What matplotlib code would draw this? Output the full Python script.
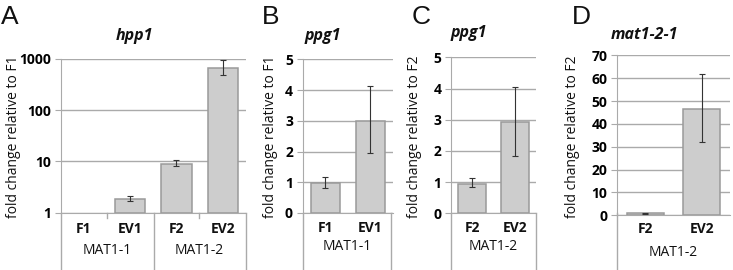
import numpy as np
import matplotlib
matplotlib.use("Agg")
import matplotlib.pyplot as plt
from matplotlib.transforms import blended_transform_factory
from matplotlib.lines import Line2D

plt.rcParams['font.family'] = ['Open Sans', 'DejaVu Sans']

# panel A: hpp1 (log scale)
a_cats = ['F1', 'EV1', 'F2', 'EV2']
a_vals = [1.0, 1.82, 9.1, 680]
a_lo = [1.0, 1.69, 8.3, 483]
a_hi = [1.0, 2.14, 10.5, 948]
a_groups = ['MAT1-1', 'MAT1-2']
a_ticks = [1, 10, 100, 1000]

# panel B: ppg1 relative to F1
b_cats = ['F1', 'EV1']
b_vals = [0.97, 3.0]
b_lo = [0.80, 1.96]
b_hi = [1.18, 4.13]

# panel C: ppg1 relative to F2
c_cats = ['F2', 'EV2']
c_vals = [0.95, 2.92]
c_lo = [0.85, 1.83]
c_hi = [1.14, 4.04]

# panel D: mat1-2-1 relative to F2
d_cats = ['F2', 'EV2']
d_vals = [0.8, 46.6]
d_lo = [0.5, 32.0]
d_hi = [1.2, 61.7]

W, H = 733, 270
fig = plt.figure(figsize=(W / 100, H / 100), dpi=100)

GRID = '#aaaaaa'
BAR = '#cdcdcd'
EDGE = '#9a9a9a'


def px_axes(left, right, top, bottom):
    return fig.add_axes([left / W, 1 - bottom / H, (right - left) / W, (bottom - top) / H])


def style(ax, ticks):
    for s in ['top', 'right']:
        ax.spines[s].set_visible(False)
    ax.spines['left'].set_color(GRID)
    ax.spines['bottom'].set_color(GRID)
    ax.set_yticks(ticks, [str(t) for t in ticks], fontweight='bold', fontsize=10)
    ax.minorticks_off()
    ax.tick_params(axis='y', length=4, color=GRID, pad=3)
    ax.tick_params(axis='x', length=0, labelbottom=False)
    ax.yaxis.grid(True, color=GRID, lw=1)
    ax.set_axisbelow(True)


def draw_bars(ax, vals, lo, hi, base=0):
    x = np.arange(len(vals))
    vals = np.array(vals)
    lo, hi = np.array(lo), np.array(hi)
    h = vals - base
    ax.bar(x, h, bottom=base, width=0.65, color=BAR, edgecolor=EDGE,
           lw=[1.1 if v > 0 else 0 for v in h], zorder=2)
    m = hi > lo
    err = [vals[m] - lo[m], hi[m] - vals[m]]
    ax.errorbar(x[m], vals[m], yerr=err, fmt='none', ecolor='#333333', elinewidth=0.8,
                capsize=2, capthick=0.8, zorder=3)
    ax.set_xlim(-0.5, len(vals) - 0.5)


def cat_table(ax, cats, groups, cat_y, grp_y, full_lines, short_lines):
    tr = blended_transform_factory(ax.transData, fig.transFigure)
    for i, c in enumerate(cats):
        ax.text(i, 1 - cat_y / H, c, transform=tr, ha='center', va='center',
                fontsize=10, fontweight='bold', color='#111111')
    n = len(cats) // len(groups)
    for g, name in enumerate(groups):
        ax.text(g * n + (n - 1) / 2, 1 - grp_y / H, name, transform=tr, ha='center',
                va='center', fontsize=10, color='#111111')
    for xv in full_lines:
        fig.add_artist(Line2D([xv / W, xv / W], [1 - 213 / H, 0], color=GRID, lw=1))
    for xv in short_lines:
        fig.add_artist(Line2D([xv / W, xv / W], [1 - 213 / H, 1 - 218 / H], color=GRID, lw=1))


# A
axA = px_axes(60.5, 246, 59, 212.7)
axA.set_yscale('log')
axA.set_ylim(1, 1000)
draw_bars(axA, a_vals, a_lo, a_hi, base=1)
style(axA, a_ticks)
cat_table(axA, a_cats, a_groups, 229, 250, [60.5, 154, 246], [107, 199])

# B
axB = px_axes(302.7, 392.7, 59.3, 213)
axB.set_ylim(0, 5)
draw_bars(axB, b_vals, b_lo, b_hi)
style(axB, list(range(6)))
cat_table(axB, b_cats, ['MAT1-1'], 228, 247, [302.7, 391], [])

# C
axC = px_axes(451, 536, 57.3, 213.3)
axC.set_ylim(0, 5)
draw_bars(axC, c_vals, c_lo, c_hi)
style(axC, list(range(6)))
cat_table(axC, c_cats, ['MAT1-2'], 228, 247, [451, 536], [])

# D
axD = px_axes(617, 730, 55.3, 215.3)
axD.set_ylim(0, 70)
draw_bars(axD, d_vals, d_lo, d_hi)
style(axD, list(range(0, 71, 10)))
cat_table(axD, d_cats, ['MAT1-2'], 229, 252, [617], [])

# y labels
ylabs = [(14, 'fold change relative to F1'), (271, 'fold change relative to F1'),
         (414, 'fold change relative to F2'), (572, 'fold change relative to F2')]
for xv, t in ylabs:
    fig.text(xv / W, 1 - 137 / H, t, rotation=90, ha='center', va='center',
             fontsize=10, color='#111111')

# titles
for xv, yv, t in [(134, 36, 'hpp1'), (323, 36, 'ppg1'), (469, 33, 'ppg1'), (644, 35, 'mat1-2-1')]:
    fig.text(xv / W, 1 - yv / H, t, ha='center', va='center', fontsize=11.5,
             fontweight='bold', fontstyle='italic', color='#111111')

# panel letters
for xv, t in [(1, 'A'), (262, 'B'), (412, 'C'), (572, 'D')]:
    fig.text(xv / W, 1 - 17 / H, t, ha='left', va='center', fontsize=19,
             family='Liberation Sans', color='#111111')

fig.savefig('out.png', dpi=100)
